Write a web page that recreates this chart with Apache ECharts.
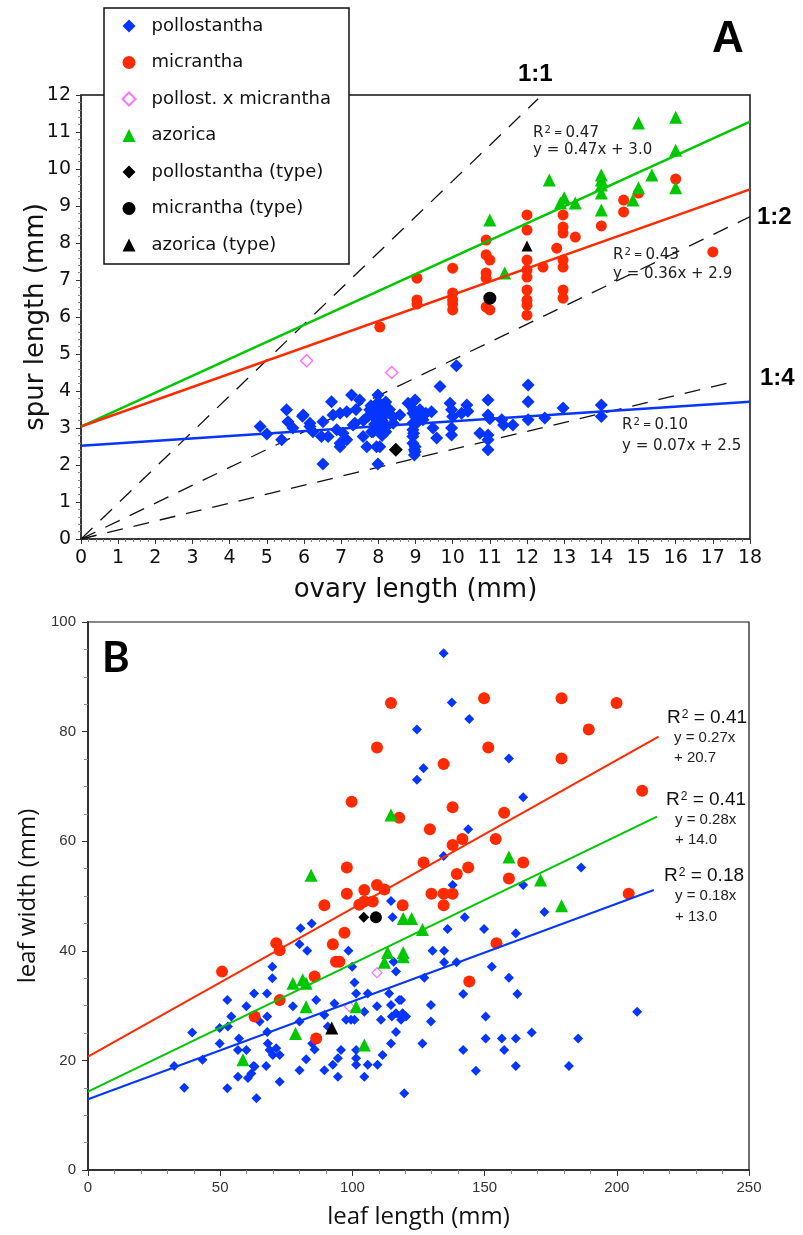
<!DOCTYPE html>
<html><head><meta charset="utf-8">
<script src="https://cdn.jsdelivr.net/npm/echarts/dist/echarts.min.js"></script>
<style>html,body{margin:0;padding:0;background:#fff}#c{width:803px;height:1235px}</style>
</head><body><div id="c"></div>
<script>
// ---------- Panel A data (ovary length vs spur length, mm) ----------
const A_xLimits = [0, 18];
const A_yLimits = [0, 12];
const A_ticks = [1, 1];
const A_pollostantha = [
 [4.82,3.04],[5.0,2.84],[5.4,2.68],[5.53,3.49],[5.57,3.17],[5.7,3.0],[5.96,3.32],[6.16,3.04],[6.24,2.9],[6.51,2.03],
 [6.51,3.17],[6.65,2.77],[6.74,3.71],[6.78,3.35],[6.88,2.95],[6.97,2.59],[7.05,2.86],[7.15,3.44],[7.28,3.89],[7.32,3.08],
 [7.5,3.76],[7.59,2.77],[7.72,3.31],[7.77,3.49],[7.86,2.9],[7.99,3.89],[7.99,2.03],[7.95,3.22],[8.04,2.49],[8.09,3.58],
 [8.13,3.4],[8.22,3.04],[8.8,3.67],[8.99,3.76],[8.95,3.49],[8.95,2.86],[8.99,2.49],[8.99,2.36],[9.2,3.22],[9.28,3.4],
 [5.98,3.35],[6.16,3.13],[6.47,2.77],[6.97,3.4],[7.15,2.68],[6.97,2.49],[7.37,3.13],[7.69,2.49],[7.95,2.49],[7.82,2.9],
 [8.22,3.4],[8.4,3.13],[8.58,3.35],[8.93,3.4],[8.93,3.13],[8.93,2.95],[8.93,2.77],[8.93,2.59],[8.97,2.41],[8.97,2.27],
 [9.12,3.49],[9.17,3.31],[9.43,3.44],[9.47,3.0],[9.57,2.73],[9.66,4.12],[9.93,3.67],[10.0,3.31],[10.24,3.4],[10.38,3.62],
 [7.9,3.3],[8.0,3.5],[8.0,3.7],[8.1,3.2],[7.8,3.6],[8.2,3.7],[8.0,3.0],[8.1,2.8],[7.9,3.1],[8.3,3.5],
 [8.2,2.9],[8.0,3.35],[7.6,3.2],[7.4,3.5],[8.4,3.3],[9.0,3.1],[9.0,3.3],
 [9.97,3.49],[9.97,3.0],[9.97,2.81],[10.1,4.68],[10.41,3.45],[10.73,2.86],[10.95,3.76],[10.95,3.35],[11.0,3.25],[10.95,2.81],
 [10.95,2.68],[10.95,2.41],[11.32,3.22],[11.37,3.08],[11.62,3.08],[12.03,4.16],[12.03,3.71],[12.03,3.22],[12.48,3.27],[12.97,3.54],
 [14.0,3.62],[14.0,3.31]
];
const A_micrantha = [
 [8.04,5.73],[9.04,7.05],[9.04,6.46],[9.04,6.35],[10.0,7.32],[10.0,6.65],[10.0,6.46],[10.0,6.19],[10.0,6.35],[10.9,8.08],
 [10.9,7.68],[11.0,7.54],[10.9,7.19],[10.9,7.05],[10.9,6.27],[11.0,6.19],[12.0,8.76],[12.0,8.35],[12.0,7.54],[12.0,7.27],
 [12.0,7.08],[12.0,6.73],[12.0,6.46],[12.0,6.32],[12.0,6.05],[12.43,7.35],[12.8,7.86],[12.97,8.76],[12.97,8.43],[12.97,8.27],
 [12.97,7.54],[12.97,7.35],[12.97,6.73],[12.97,6.51],[13.3,8.16],[14.0,8.46],[14.6,9.16],[14.6,8.84],[15.0,9.35],[16.0,9.73],
 [17.0,7.76]
];
const A_hybrid = [[6.07,4.82],[8.36,4.5]];
const A_azorica = [
 [11.0,8.62],[11.4,7.19],[12.6,9.7],[12.9,9.08],[13.0,9.22],[13.3,9.08],[14.0,9.84],[14.0,9.70],[14.0,9.57],[14.0,9.35],
 [14.0,8.89],[14.85,9.16],[15.0,11.24],[15.0,9.49],[15.36,9.84],[16.0,11.4],[16.0,10.51],[16.0,9.49]
];
const A_pollostanthaType = [[8.47,2.41]];
const A_micranthaType = [[11.0,6.51]];
const A_azoricaType = [[12.0,7.92]];
const A_fitAzorica = [[0,3.04],[18,11.28]];
const A_fitMicrantha = [[0,3.04],[18,9.45]];
const A_fitPollostantha = [[0,2.52],[18,3.71]];
const A_ratio11 = [[0,0],[12.3,11.9]];
const A_ratio12 = [[0,0],[18,8.71]];
const A_ratio14 = [[0,0],[17.54,4.25]];
const A_fitR2 = ['0.47','0.43','0.10'];
const A_fitEq = ['y = 0.47x + 3.0','y = 0.36x + 2.9','y = 0.07x + 2.5'];
const A_ratioLabels = ['1:1','1:2','1:4'];

// ---------- Panel B data (leaf length vs leaf width, mm) ----------
const B_xLimits = [0, 250];
const B_yLimits = [0, 100];
const B_ticks = [50, 20];
const B_pollostantha = [
 [134.5,94.3],[137.6,85.3],[144.2,82.3],[124.4,80.4],[126.9,73.3],[124.4,71.2],[159.2,75.1],[164.6,68.0],[143.8,62.2],[134.5,57.3],
 [137.9,52.0],[164.6,52.0],[186.5,55.2],[142.5,46.1],[172.6,47.1],[114.6,49.1],[115.2,46.1],
 [136.0,44.0],[149.8,44.0],[161.8,43.2],[130.3,40.0],[134.7,40.0],[134.7,37.9],[139.4,37.9],[127.2,35.1],[152.7,37.1],[159.2,35.1],
 [141.9,32.1],[162.4,32.1],[129.7,30.1],[129.7,27.1],[118.4,31.0],[118.4,28.0],[150.4,28.0],[207.7,28.9],[126.5,23.1],[141.9,21.9],
 [150.4,24.0],[156.5,24.0],[161.8,24.0],[167.8,25.1],[157.4,21.9],[185.4,24.0],[146.7,18.1],[161.8,19.0],[181.9,19.0],[119.6,14.0],
 [80.4,44.1],[84.6,45.0],[80.0,41.2],[82.9,40.0],[98.5,40.0],[69.7,37.1],[69.7,35.0],[99.9,37.1],[115.6,38.0],[116.5,36.2],
 [100.8,34.2],[62.8,32.2],[67.7,32.2],[52.7,31.0],[59.9,29.9],[86.3,31.0],[77.5,29.9],[54.2,28.0],[67.8,28.0],[64.9,27.1],
 [101.4,32.2],[105.8,32.2],[109.3,29.9],[113.9,32.2],[117.7,31.0],[114.6,30.1],[110.8,27.4],[116.5,28.6],[119.0,28.6],[118.4,27.4],
 [104.5,28.9],[97.6,27.4],[99.5,27.4],[100.8,27.4],[93.2,30.4],[89.4,28.3],[90.7,26.2],[80.0,27.1],[52.9,26.2],[39.4,25.1],
 [67.8,25.2],[49.8,23.1],[57.1,24.0],[68.0,23.1],[71.2,22.2],[69.9,21.0],[72.5,21.0],[68.7,21.9],[43.3,20.1],[56.7,21.9],
 [59.9,21.9],[67.4,19.0],[62.6,19.0],[56.7,17.0],[60.5,16.8],[61.8,17.6],[63.0,18.9],[72.5,16.1],[80.0,18.2],[82.5,20.2],
 [85.7,22.0],[84.8,23.1],[89.4,18.2],[92.6,19.2],[94.5,20.4],[95.7,21.9],[94.5,17.0],[101.4,21.9],[101.4,20.4],[101.4,19.2],
 [104.5,17.0],[105.8,19.2],[109.5,19.2],[111.4,21.0],[114.6,23.1],[116.5,25.2],[36.4,15.0],[52.7,14.9],[63.7,13.1],[32.6,19.0],
 [114.9,28.0],[120.3,28.0],[49.8,25.9]
];
const B_micrantha = [
 [114.6,85.2],[109.3,77.1],[99.7,67.2],[117.7,64.3],[129.3,62.2],[97.9,55.2],[126.9,56.1],[97.9,50.4],[104.5,51.1],[109.3,52.0],
 [112.1,51.2],[89.4,48.3],[102.6,48.4],[104.5,49.0],[107.7,49.0],[119.0,48.3],[71.2,41.4],[72.5,40.1],[50.7,36.2],[97.0,43.3],
 [92.6,41.2],[93.8,38.0],[95.1,38.0],[85.7,35.3],[72.5,31.0],[63.0,28.0],[86.3,24.0],[149.8,86.1],[179.1,86.1],[199.9,85.2],
 [189.4,80.4],[151.4,77.1],[134.5,74.1],[179.1,75.1],[209.6,69.2],[137.9,66.2],[157.4,65.2],[141.6,60.4],[154.2,60.4],[137.9,59.3],
 [143.8,55.2],[139.5,54.0],[164.6,56.1],[159.2,53.2],[129.9,50.4],[134.5,50.4],[137.9,50.4],[134.5,48.3],[204.5,50.4],[154.5,41.4],
 [144.2,34.4]
];
const B_hybrid = [[109.3,36.0],[98.9,29.8]];
const B_azorica = [
 [84.4,53.8],[114.6,64.8],[119.2,45.9],[122.4,45.9],[113.3,39.7],[119.2,39.7],[119.2,38.9],[112.1,37.9],[77.5,34.1],[81.2,34.7],
 [82.5,34.1],[82.5,29.8],[101.4,29.8],[78.5,24.9],[104.5,22.8],[58.6,20.1],[159.2,57.1],[171.2,52.9],[179.1,48.2],[126.5,43.9]
];
const B_pollostanthaType = [[104.3,46.1]];
const B_micranthaType = [[108.9,46.1]];
const B_azoricaType = [[92.2,25.9]];
const B_fitMicrantha = [[0,20.7],[215.8,79.1]];
const B_fitAzorica = [[0,14.3],[215.2,64.5]];
const B_fitPollostantha = [[0,12.9],[214,51.1]];
const B_fitR2 = ['0.41','0.41','0.18'];
const B_fitEq = [['y = 0.27x','+ 20.7'],['y = 0.28x','+ 14.0'],['y = 0.18x','+ 13.0']];

const NAMES = ['pollostantha','micrantha','pollost. x micrantha','azorica','pollostantha (type)','micrantha (type)','azorica (type)'];
const BLUE = '#0535ff', RED = '#ff2a00', GREEN = '#00c800', PINK = '#ff4dff', BLACK = '#000';
const FA = "'DejaVu Sans', sans-serif";
const FB = "'Liberation Sans', Arial, sans-serif";
const FT = "'Open Sans', sans-serif";

function scatter(name, data, g, symbol, size, color, extra) {
  return Object.assign({
    name, type: 'scatter', xAxisIndex: g, yAxisIndex: g, data, symbol, symbolSize: size,
    itemStyle: { color, opacity: 1 }, z: 2, silent: true
  }, extra || {});
}
function line(name, data, g, color, width, dash, z) {
  return { name, type: 'line', xAxisIndex: g, yAxisIndex: g, data, symbol: 'none', silent: true, z,
    lineStyle: { color, width, type: dash || 'solid' } };
}
function axisX(g, lim, step, minorSplit, o) {
  return {
    gridIndex: g, type: 'value', min: lim[0], max: lim[1], interval: step,
    axisLine: { onZero: false, lineStyle: { color: o.lineColor, width: o.lineWidth } },
    axisTick: { length: o.tickLen, lineStyle: { color: o.lineColor, width: 1 } },
    minorTick: { show: true, splitNumber: minorSplit, length: o.minorLen, lineStyle: { color: '#888', width: 1 } },
    splitLine: { show: false },
    axisLabel: { fontFamily: o.font, fontSize: o.fontSize, color: o.labelColor, margin: o.margin },
    name: o.name, nameLocation: 'middle', nameGap: o.nameGap, nameMoveOverlap: false,
    nameTextStyle: { fontFamily: o.nameFont, fontSize: o.nameSize, color: '#111', verticalAlign: 'middle' }
  };
}
function axisY(g, lim, step, minorSplit, o) {
  const a = axisX(g, lim, step, minorSplit, o);
  a.nameTextStyle.align = 'center';
  return a;
}

function sup(x, y, r2, sizes, color, font) {
  return { type: 'text', x, y, z: 10, silent: true, style: {
    text: '{r|R}{s|2}{e|' + sizes.eqText + '}{n|' + r2 + '}', align: 'left', verticalAlign: 'middle',
    rich: {
      r: { fontSize: sizes.big, fontFamily: font, fill: color },
      s: { fontSize: sizes.small, fontFamily: font, fill: color, verticalAlign: 'top', lineHeight: sizes.small, padding: [0, 0, 0, 1] },
      e: { fontSize: sizes.eq, fontFamily: font, fill: color },
      n: { fontSize: sizes.big, fontFamily: font, fill: color }
    } } };
}
function txt(x, y, text, font, color, extra) {
  return Object.assign({ type: 'text', x, y, z: 10, silent: true,
    style: { text, font, fill: color || '#111', align: 'left', verticalAlign: 'middle' } }, extra || {});
}

const chart = echarts.init(document.getElementById('c'), null, { renderer: 'canvas' });
const option = {
  animation: false,
  backgroundColor: '#fff',
  grid: [
    { left: 81, top: 95, width: 669, height: 444, show: true, borderColor: '#111', borderWidth: 1.5, backgroundColor: 'transparent' },
    { left: 88, top: 622, width: 661, height: 548, show: true, borderColor: '#111', borderWidth: 1.2, backgroundColor: 'transparent' }
  ],
  xAxis: [
    axisX(0, A_xLimits, A_ticks[0], 5, { lineColor: '#333', lineWidth: 1.5, tickLen: 5, minorLen: 3, font: FA, fontSize: 19,
      labelColor: '#111', margin: 10, name: 'ovary length (mm)', nameGap: 51, nameFont: FA, nameSize: 26 }),
    axisX(1, B_xLimits, B_ticks[0], 5, { lineColor: '#333', lineWidth: 2, tickLen: 6, minorLen: 4, font: FB, fontSize: 15,
      labelColor: '#333', margin: 10, name: 'leaf length (mm)', nameGap: 47, nameFont: FT, nameSize: 24 })
  ],
  yAxis: [
    axisY(0, A_yLimits, A_ticks[1], 5, { lineColor: '#333', lineWidth: 1.5, tickLen: 5, minorLen: 3, font: FA, fontSize: 19,
      labelColor: '#111', margin: 10, name: 'spur length (mm)', nameGap: 45, nameFont: FA, nameSize: 26 }),
    axisY(1, B_yLimits, B_ticks[1], 4, { lineColor: '#333', lineWidth: 2, tickLen: 6, minorLen: 4, font: FB, fontSize: 15,
      labelColor: '#333', margin: 12, name: 'leaf width (mm)', nameGap: 60, nameFont: FT, nameSize: 24 })
  ],
  legend: {
    left: 121.5, top: 17, orient: 'vertical', itemWidth: 13, itemHeight: 13, itemGap: 18.5, padding: 0,
    selectedMode: false, z: 20,
    textStyle: { fontFamily: FA, fontSize: 18, color: '#111', lineHeight: 18, padding: [0, 0, 0, 11] },
    data: NAMES
  },
  graphic: [
    { type: 'rect', z: 3, silent: true, shape: { x: 104, y: 8, width: 245, height: 256 },
      style: { fill: '#fff', stroke: '#111', lineWidth: 1.5 } },
    txt(712, 40, 'A', 'bold 44px ' + FB, '#000'),
    txt(518, 74, A_ratioLabels[0], 'bold 24px ' + FB, '#000'),
    txt(757, 217, A_ratioLabels[1], 'bold 24px ' + FB, '#000'),
    txt(760, 378, A_ratioLabels[2], 'bold 24px ' + FB, '#000'),
    sup(533, 133, A_fitR2[0], { big: 15, small: 10, eq: 10, eqText: ' = ' }, '#222', FA),
    txt(533, 150, A_fitEq[0], '15px ' + FA, '#222'),
    sup(613, 255, A_fitR2[1], { big: 15, small: 10, eq: 10, eqText: ' = ' }, '#222', FA),
    txt(613, 274, A_fitEq[1], '15px ' + FA, '#222'),
    sup(622, 425, A_fitR2[2], { big: 15, small: 10, eq: 10, eqText: ' = ' }, '#222', FA),
    txt(622, 446, A_fitEq[2], '15px ' + FA, '#222'),
    txt(102, 658, 'B', 'bold 42px Lato, ' + FB, '#000'),
    sup(667, 718, B_fitR2[0], { big: 19, small: 12, eq: 19, eqText: ' = ' }, '#111', FB),
    txt(674, 738, B_fitEq[0][0], '15px ' + FB, '#222'),
    txt(674, 758, B_fitEq[0][1], '15px ' + FB, '#222'),
    sup(666, 800, B_fitR2[1], { big: 19, small: 12, eq: 19, eqText: ' = ' }, '#111', FB),
    txt(675, 820, B_fitEq[1][0], '15px ' + FB, '#222'),
    txt(675, 840, B_fitEq[1][1], '15px ' + FB, '#222'),
    sup(664, 876, B_fitR2[2], { big: 19, small: 12, eq: 19, eqText: ' = ' }, '#111', FB),
    txt(675, 896, B_fitEq[2][0], '15px ' + FB, '#222'),
    txt(675, 917, B_fitEq[2][1], '15px ' + FB, '#222')
  ],
  series: [
    // Panel A
    line('ratio 1:1', A_ratio11, 0, '#111', 1.3, [16, 11], 1),
    line('ratio 1:2', A_ratio12, 0, '#111', 1.3, [16, 11], 1),
    line('ratio 1:4', A_ratio14, 0, '#111', 1.3, [16, 11], 1),
    scatter(NAMES[0], A_pollostantha, 0, 'diamond', 13, BLUE),
    scatter(NAMES[1], A_micrantha, 0, 'circle', 11, RED),
    scatter(NAMES[2], A_hybrid, 0, 'diamond', 12, '#fff', { itemStyle: { color: '#fff', borderColor: PINK, borderWidth: 1.5 } }),
    scatter(NAMES[3], A_azorica, 0, 'triangle', 13, GREEN),
    line('fit A azorica', A_fitAzorica, 0, GREEN, 2.5, 'solid', 3),
    line('fit A micrantha', A_fitMicrantha, 0, RED, 2.5, 'solid', 3),
    line('fit A pollostantha', A_fitPollostantha, 0, BLUE, 2.5, 'solid', 3),
    scatter(NAMES[4], A_pollostanthaType, 0, 'diamond', 14, BLACK, { z: 4 }),
    scatter(NAMES[5], A_micranthaType, 0, 'circle', 13, BLACK, { z: 4 }),
    scatter(NAMES[6], A_azoricaType, 0, 'triangle', 11, BLACK, { z: 4 }),
    // Panel B
    scatter(NAMES[0], B_pollostantha, 1, 'diamond', 10, BLUE),
    scatter(NAMES[1], B_micrantha, 1, 'circle', 12, RED),
    scatter(NAMES[2], B_hybrid, 1, 'diamond', 10, '#fff', { itemStyle: { color: 'rgba(255,255,255,0)', borderColor: PINK, borderWidth: 1.2 } }),
    scatter(NAMES[3], B_azorica, 1, 'triangle', 13, GREEN),
    line('fit B micrantha', B_fitMicrantha, 1, RED, 2, 'solid', 3),
    line('fit B azorica', B_fitAzorica, 1, GREEN, 2, 'solid', 3),
    line('fit B pollostantha', B_fitPollostantha, 1, BLUE, 2, 'solid', 3),
    scatter(NAMES[4], B_pollostanthaType, 1, 'diamond', 11, BLACK, { z: 4 }),
    scatter(NAMES[5], B_micranthaType, 1, 'circle', 12, BLACK, { z: 4 }),
    scatter(NAMES[6], B_azoricaType, 1, 'triangle', 13, BLACK, { z: 4 })
  ]
};
chart.setOption(option);
</script></body></html>
